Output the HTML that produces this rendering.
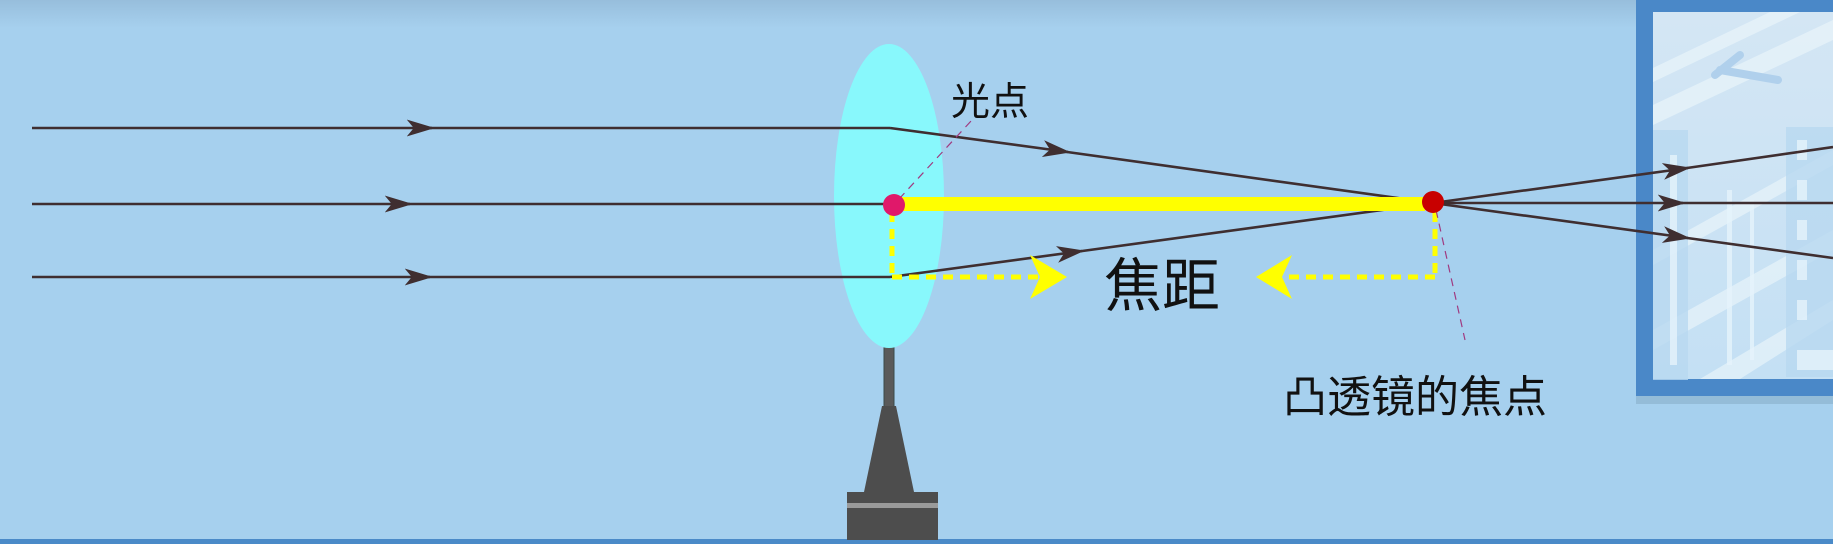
<!DOCTYPE html>
<html><head><meta charset="utf-8"><style>
html,body{margin:0;padding:0;width:1833px;height:544px;overflow:hidden;background:#a6d0ee}
svg{display:block}
text{font-family:"Liberation Sans","Noto Sans CJK SC",sans-serif;fill:#111}
</style></head><body>
<svg width="1833" height="544" viewBox="0 0 1833 544">
<defs>
<linearGradient id="topg" x1="0" y1="0" x2="0" y2="1"><stop offset="0" stop-color="#97bedc"/><stop offset="1" stop-color="#a6d0ee"/></linearGradient>
<linearGradient id="glass" x1="0" y1="0" x2="0" y2="1"><stop offset="0" stop-color="#d4e6f4"/><stop offset="1" stop-color="#c4e0f4"/></linearGradient>
<marker id="ar" viewBox="0 0 20 12" refX="18" refY="6" markerWidth="28" markerHeight="17" markerUnits="userSpaceOnUse" orient="auto"><path d="M0,0 L20,6 L0,12 L5,6 Z" fill="#3f2e30"/></marker>
</defs>
<rect x="0" y="0" width="1833" height="544" fill="#a6d0ee"/>
<rect x="0" y="0" width="1833" height="28" fill="url(#topg)"/>
<rect x="0" y="539" width="1833" height="5" fill="#4a8ac8"/>

<g>
<rect x="1636" y="396" width="197" height="8" fill="#94bcd8"/>
<rect x="1636" y="0" width="197" height="396" fill="#4a88c8"/>
<rect x="1653" y="12" width="180" height="367" fill="url(#glass)"/>
<g fill="#eef8fc" opacity="0.6">
<polygon points="1653,68 1770,12 1800,12 1653,82"/>
<polygon points="1653,105 1833,20 1833,40 1653,125"/>
<polygon points="1653,250 1833,150 1833,165 1653,265"/>
<polygon points="1653,330 1833,230 1833,250 1653,350"/>
<polygon points="1700,379 1833,300 1833,320 1740,379"/>
</g>
<g fill="#b8d8f0" opacity="0.8">
<rect x="1786" y="127" width="47" height="250"/>
<rect x="1653" y="130" width="35" height="250"/>
</g>
<g fill="#e6f4fc" opacity="0.8">
<rect x="1797" y="140" width="10" height="20"/><rect x="1797" y="180" width="10" height="20"/><rect x="1797" y="220" width="10" height="20"/><rect x="1797" y="260" width="10" height="20"/><rect x="1797" y="300" width="10" height="20"/><rect x="1797" y="350" width="36" height="20"/>
<rect x="1670" y="155" width="7" height="210"/><rect x="1727" y="190" width="5" height="175"/><rect x="1750" y="200" width="4" height="160"/>
</g>
<path d="M1715,75 L1740,55 M1720,70 L1778,80" stroke="#b0d0ec" stroke-width="8" stroke-linecap="round"/>
</g>

<g>
<rect x="884" y="346" width="10" height="62" fill="#5a5a5a" stroke="#3a4a4a" stroke-width="1"/>
<polygon points="882,406 896,406 914,492 864,492" fill="#4d4d4d"/>
<rect x="847" y="492" width="91" height="48" fill="#4d4d4d"/>
<rect x="847" y="503" width="91" height="5" fill="#9a9a9a"/>
</g>
<ellipse cx="889" cy="196" rx="55" ry="152" fill="#88f8fc"/>

<g stroke="#3f2e30" stroke-width="2.6" fill="none">
<polyline points="32,128 432,128" marker-end="url(#ar)"/><line x1="425" y1="128" x2="890" y2="128"/>
<polyline points="32,204 410,204" marker-end="url(#ar)"/><line x1="405" y1="204" x2="890" y2="204"/>
<polyline points="32,277 430,277" marker-end="url(#ar)"/><line x1="425" y1="277" x2="890" y2="277"/>
<line x1="890" y1="128" x2="1068" y2="152" marker-end="url(#ar)"/><line x1="1060" y1="151" x2="1433" y2="203"/>
<line x1="890" y1="277" x2="1082" y2="251" marker-end="url(#ar)"/><line x1="1075" y1="252" x2="1433" y2="203"/>
<line x1="1433" y1="203" x2="1688" y2="168" marker-end="url(#ar)"/><line x1="1680" y1="169" x2="1833" y2="147"/>
<line x1="1433" y1="203" x2="1683" y2="203" marker-end="url(#ar)"/><line x1="1675" y1="203" x2="1833" y2="203"/>
<line x1="1433" y1="203" x2="1688" y2="238" marker-end="url(#ar)"/><line x1="1680" y1="237" x2="1833" y2="258"/>
</g>

<rect x="900" y="197" width="525" height="14" fill="#ffff00"/>
<g stroke="#ffff00" stroke-width="5" stroke-dasharray="10,7" fill="none">
<line x1="892" y1="212" x2="892" y2="277"/><line x1="892" y1="277" x2="1040" y2="277"/>
<line x1="1435" y1="212" x2="1435" y2="277"/><line x1="1435" y1="277" x2="1280" y2="277"/>
</g>
<polygon points="1030,255 1067,277 1030,299 1040,277" fill="#ffff00"/>
<polygon points="1292,255 1256,277 1292,299 1282,277" fill="#ffff00"/>

<line x1="899" y1="199" x2="972" y2="120" stroke="#a03a80" stroke-width="1.2" stroke-dasharray="8,6"/>
<line x1="1436" y1="210" x2="1465" y2="340" stroke="#a03a80" stroke-width="1.2" stroke-dasharray="8,6"/>
<circle cx="894" cy="205" r="11" fill="#e0186a"/>
<circle cx="1433" cy="202" r="11" fill="#c80000"/>

<text x="951" y="115" font-size="39">光点</text>
<text x="1104" y="306" font-size="58" font-weight="normal">焦距</text>
<text x="1283" y="412" font-size="44">凸透镜的焦点</text>
</svg>
</body></html>
